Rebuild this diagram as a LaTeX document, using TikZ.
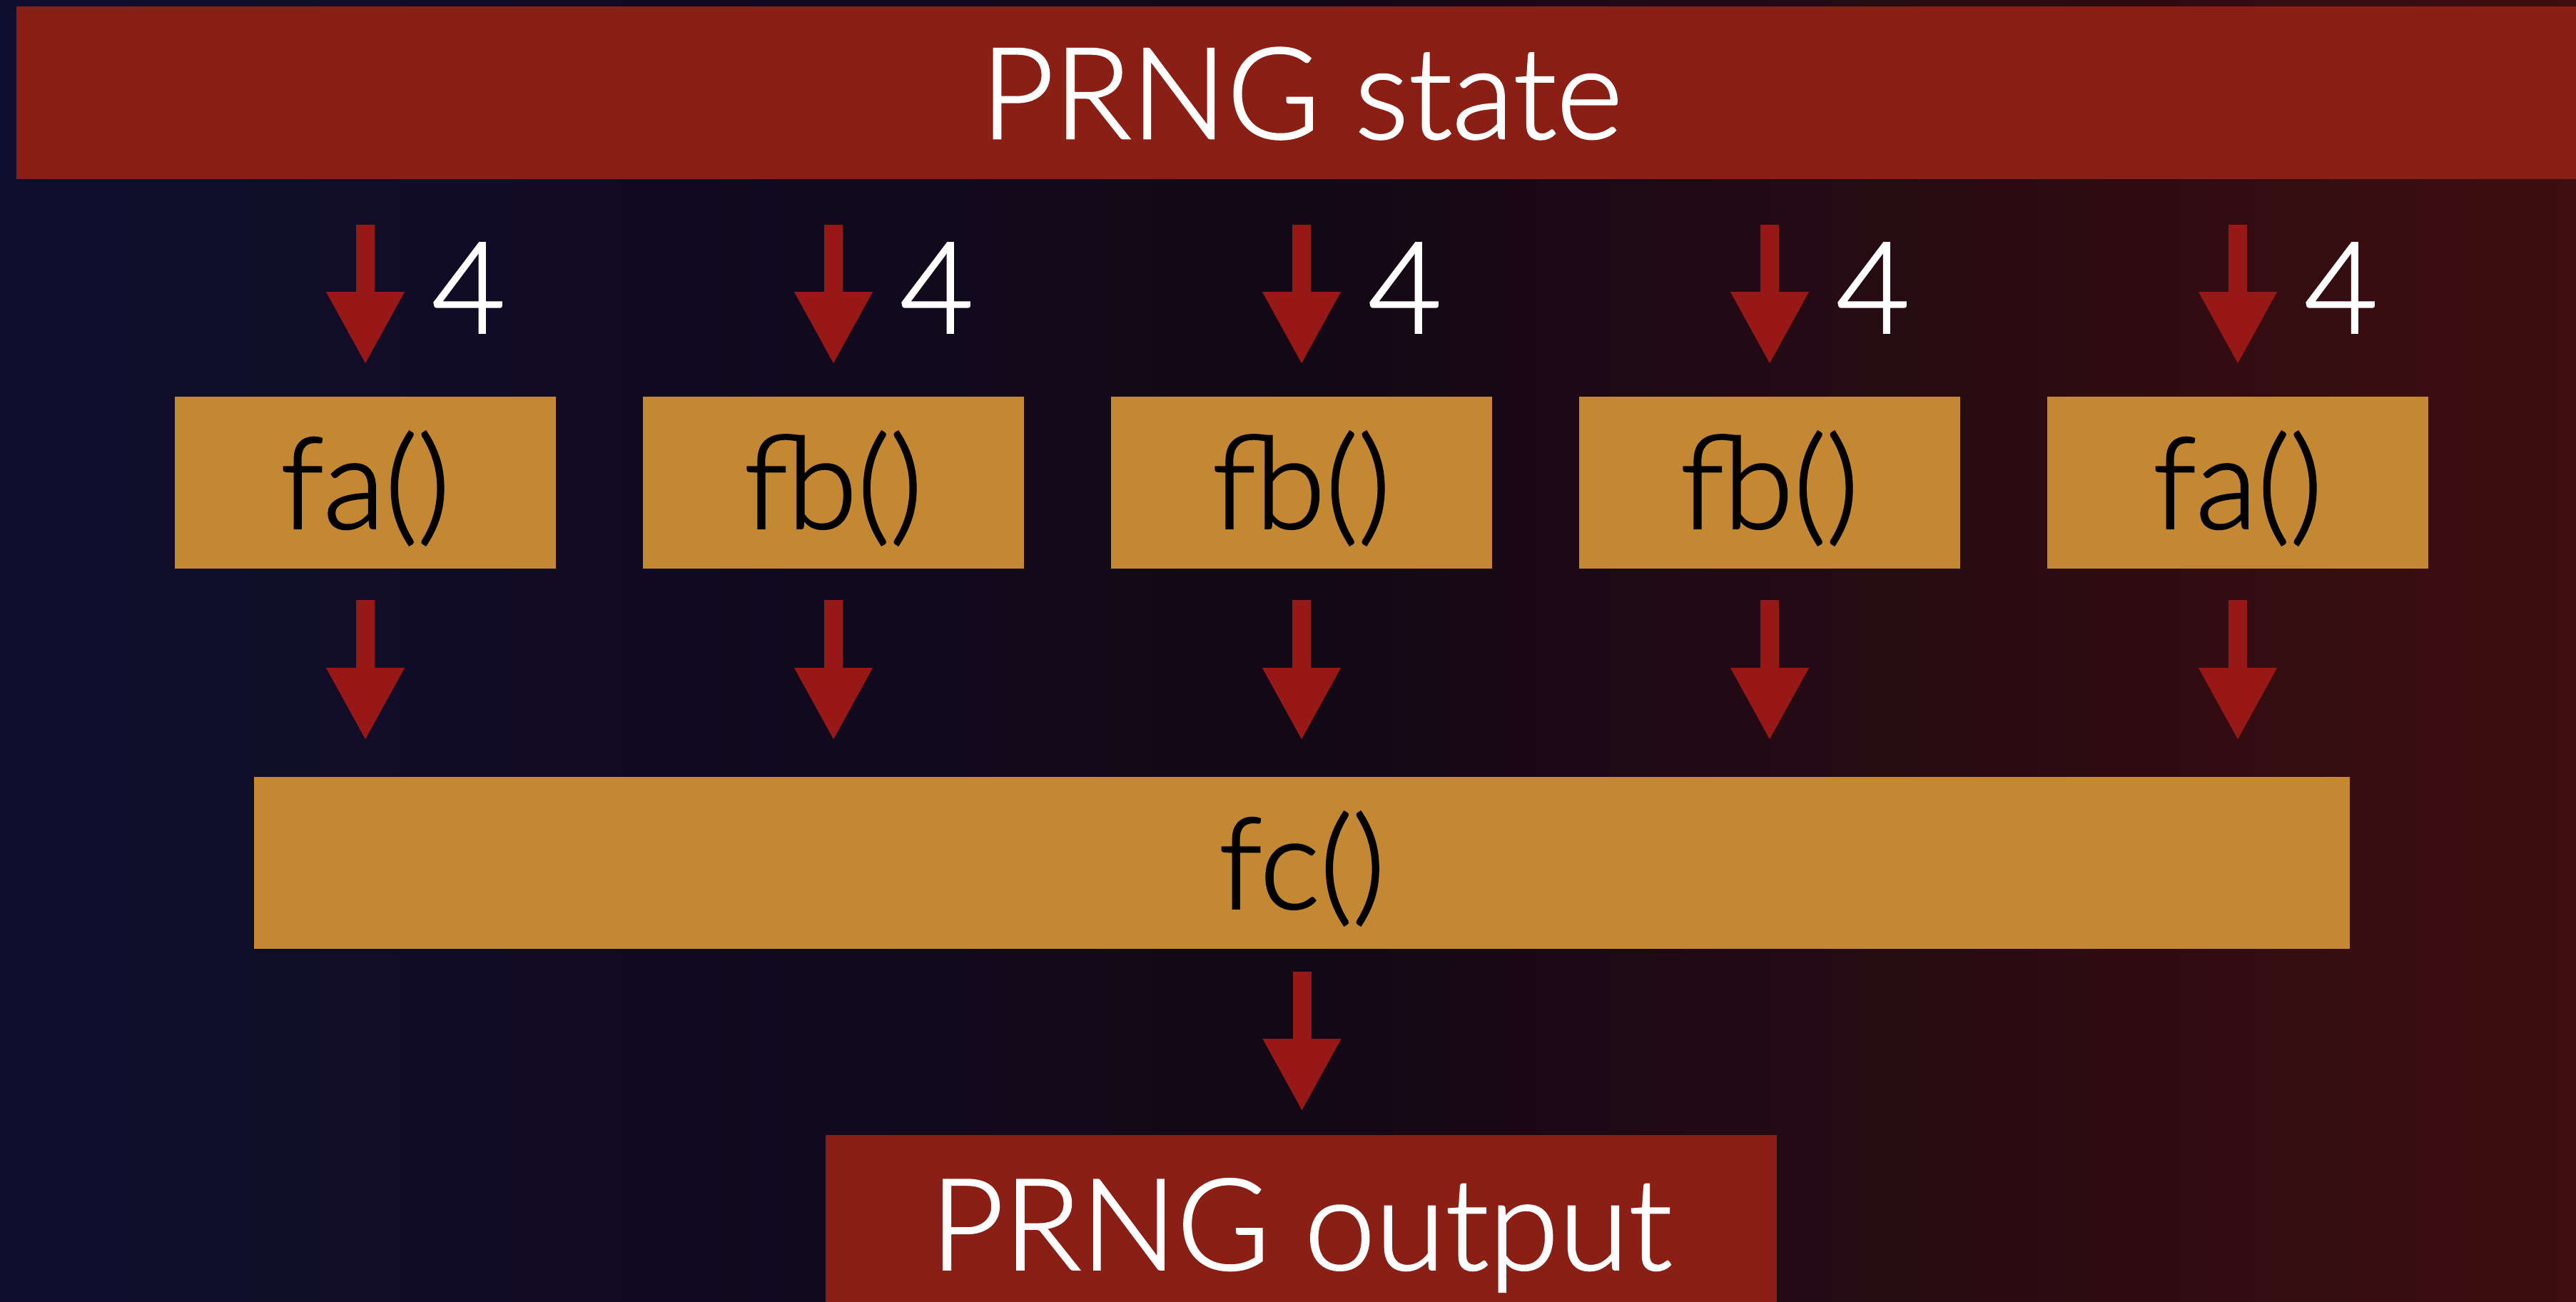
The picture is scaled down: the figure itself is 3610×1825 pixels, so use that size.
\documentclass[tikz,border=0pt]{standalone}
\usepackage{fontspec}
\setmainfont{Lato}[UprightFont=* Light, UprightFeatures={FakeBold=1.5}]
\usetikzlibrary{arrows.meta}
\definecolor{barred}{RGB}{139,31,22}
\definecolor{boxorange}{RGB}{196,136,50}
\definecolor{arrred}{RGB}{152,24,24}
\definecolor{bgblue}{RGB}{16,14,46}
\definecolor{bgmid}{RGB}{18,8,22}
\definecolor{bgred}{RGB}{62,14,16}
\begin{document}
\begin{tikzpicture}[x=0.01cm,y=-0.01cm,
  txt/.style={font=\fontsize{50.6}{60}\selectfont, inner sep=0pt, text height=1.28cm, text depth=0pt},
  redbar/.style={txt, fill=barred, text=white},
  fbox/.style={txt, fill=boxorange, text=black, minimum width=5.34cm, minimum height=2.41cm},
  arr/.style={draw=arrred, line width=0.26cm, -{Triangle[width=1.02cm,length=1.02cm]}},
  lab/.style={font=\fontsize{50.6}{60}\selectfont, inner sep=0pt, text=white, anchor=west, xshift=0.8cm}]
\useasboundingbox (0,0) rectangle (3610,1825);
\clip (0,0) rectangle (3610,1825);
\shade[left color=bgblue, right color=bgred, middle color=bgmid] (0,0) rectangle (3610,1825);

\node[redbar, minimum width=36cm, minimum height=2.42cm] (top) at (1824,130) {PRNG state};

\node[fbox] (b1) at (512,676.5) {fa()};
\node[fbox] (b2) at (1168,676.5) {fb()};
\node[fbox] (b3) at (1824,676.5) {fb()};
\node[fbox] (b4) at (2480,676.5) {fb()};
\node[fbox] (b5) at (3136,676.5) {fa()};

\node[txt, fill=boxorange, text=black, minimum width=29.35cm, minimum height=2.41cm] (fc) at (1824.5,1209.5) {fc()};

\node[redbar, minimum width=13.33cm, minimum height=2.49cm] (out) at (1823.5,1715.5) {PRNG output};

\foreach \b in {b1,b2,b3,b4,b5}{
  \draw[arr, shorten <=0.63cm, shorten >=0.44cm] (\b.north |- top.south) -- node[lab]{4} (\b.north);
  \draw[arr, shorten <=0.43cm, shorten >=0.50cm] (\b.south) -- (\b.south |- fc.north);
}
\draw[arr, shorten <=0.31cm, shorten >=0.32cm] (fc.south) -- (fc.south |- out.north);
\end{tikzpicture}
\end{document}
